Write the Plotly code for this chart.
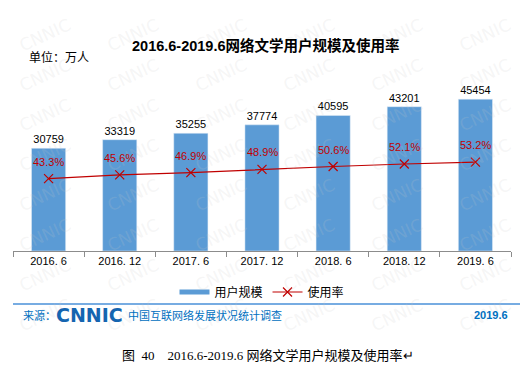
import plotly.graph_objects as go

categories = ["2016. 6", "2016. 12", "2017. 6", "2017. 12", "2018. 6", "2018. 12", "2019. 6"]
users = [30759, 33319, 35255, 37774, 40595, 43201, 45454]
rate = [43.3, 45.6, 46.9, 48.9, 50.6, 52.1, 53.2]
rate_labels = ["43.3%", "45.6%", "46.9%", "48.9%", "50.6%", "52.1%", "53.2%"]

BLUE = "#5B9BD5"
RED = "#C00000"
FOOT = "#0070C0"
CJK = "Noto Sans CJK SC"

# page body has an 8px margin: build the figure offset by 8px
OFF = 8
W, H = 529 - 2 * OFF, 375 - 2 * OFF
# plot area in reference pixels
PL, PR, PT, PB = 13, 511, 84, 251
L, R, T, B = PL - OFF, W - (PR - OFF), PT - OFF, H - (PB - OFF)
pw, ph = W - L - R, H - T - B


def pxp(x):
    return (x - OFF - L) / pw


def pyp(y):
    return 1 - (y - OFF - T) / ph


fig = go.Figure()
fig.add_trace(go.Bar(
    x=categories, y=users, marker_color=BLUE, width=0.48,
    text=[str(v) for v in users], textposition="outside",
    textfont=dict(family="Liberation Sans", size=11, color="#000000"),
    cliponaxis=False, showlegend=False, name="用户规模"))
fig.add_trace(go.Scatter(
    x=categories, y=rate, yaxis="y2", mode="lines+markers",
    line=dict(color=RED, width=1.2),
    marker=dict(symbol="x-thin", size=9, line=dict(color=RED, width=1.2)),
    showlegend=False, name="使用率"))
# legend proxies
fig.add_trace(go.Scatter(x=[None], y=[None], mode="lines", name="用户规模",
                         line=dict(color=BLUE, width=5)))
fig.add_trace(go.Scatter(x=[None], y=[None], mode="lines+markers", name="使用率",
                         line=dict(color=RED, width=1.2),
                         marker=dict(symbol="x-thin", size=9, line=dict(color=RED, width=1.2))))

annotations = []

# faint watermark (kept inside the page)
for yy in range(35, 350, 40):
    for xx in range(45, 500, 88):
        annotations.append(dict(x=pxp(xx), y=pyp(yy), xref="paper", yref="paper", text="CNNIC",
                                showarrow=False, textangle=-25,
                                font=dict(family="DejaVu Sans", size=17, color="rgba(200,200,200,0.18)"),
                                xanchor="center", yanchor="middle"))

for c, v, t in zip(categories, rate, rate_labels):
    annotations.append(dict(x=c, y=v, xref="x", yref="y2", text=t, showarrow=False,
                            yshift=17, font=dict(family="Liberation Sans", size=11, color=RED)))


def txt(x, y, s, size, color="#000", family=CJK, anchor="left", bold=False):
    annotations.append(dict(x=pxp(x), y=pyp(y), xref="paper", yref="paper",
                            text=("<b>%s</b>" % s) if bold else s, showarrow=False,
                            xanchor=anchor, yanchor="middle",
                            font=dict(family=family, size=size, color=color)))


txt(266, 45, "2016.6-2019.6网络文学用户规模及使用率", 14.5, anchor="center", bold=True,
    family="Liberation Sans, Noto Sans CJK SC")
txt(27, 57, "单位：万人", 12)
txt(21, 315, "来源：", 11, FOOT)
txt(54, 315, "CNNIC", 19, "#1565B0", family="DejaVu Sans", bold=True)
txt(126, 315, "中国互联网络发展状况统计调查", 11, FOOT)
txt(510, 315, "2019.6", 11, FOOT, family="Liberation Sans", anchor="right", bold=True)
txt(268, 355, "图  40    2016.6-2019.6 网络文学用户规模及使用率↵", 13, "#000",
    family="Liberation Serif, Noto Sans CJK SC", anchor="center")

shapes = [dict(type="line", xref="paper", yref="paper", x0=pxp(13), x1=pxp(520),
               y0=pyp(304), y1=pyp(304), line=dict(color="#4A90D9", width=1.3))]

fig.update_layout(
    width=W, height=H, margin=dict(l=L, r=R, t=T, b=B),
    paper_bgcolor="white", plot_bgcolor="rgba(0,0,0,0)",
    xaxis=dict(type="category", showline=True, linecolor="#8c8c8c", linewidth=1,
               ticks="outside", tickson="boundaries", ticklen=5, tickcolor="#8c8c8c",
               tickfont=dict(family="Liberation Sans", size=11, color="#000"),
               showgrid=False, zeroline=False),
    yaxis=dict(range=[0, 50000], visible=False, showgrid=False),
    yaxis2=dict(range=[0, 100], overlaying="y", visible=False, showgrid=False),
    legend=dict(orientation="h", x=0.5, xanchor="center", y=pyp(292), yanchor="middle",
                font=dict(family=CJK, size=12, color="#000"), itemwidth=30,
                bgcolor="rgba(0,0,0,0)"),
    annotations=annotations, shapes=shapes,
)

fig.write_html("out.html")
